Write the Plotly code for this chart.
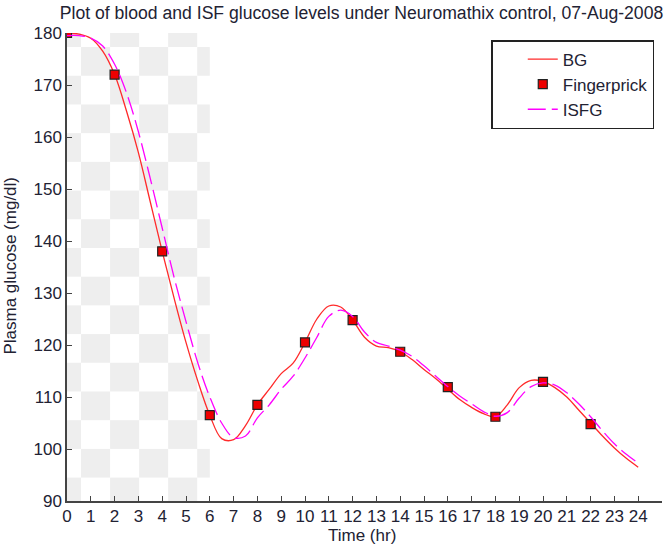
import plotly.graph_objects as go

# time grid (hr) for the model curves
t = [0, 0.5, 1, 1.5, 2, 2.5, 3, 3.5, 4, 4.5, 5, 5.5, 6, 6.5, 7, 7.5, 8, 8.5, 9, 9.5,
     10, 10.5, 11, 11.5, 12, 12.5, 13, 13.5, 14, 14.5, 15, 15.5, 16, 16.5, 17, 17.5,
     18, 18.5, 19, 19.5, 20, 20.5, 21, 21.5, 22, 22.5, 23, 23.5, 24]

# blood glucose (mg/dl)
bg = [180, 179.8, 179, 176.5, 172, 165, 157, 147.5, 138, 129, 120.5, 113, 106.5, 102, 101.8,
      104.5, 108.5, 111.5, 114.5, 116.5, 120.5, 125, 127.5, 127.3, 124.8, 121.5, 119.8, 119.5,
      118.7, 117.2, 115.3, 113.5, 111.5, 109.5, 108, 106.8, 106.2, 108.5, 111.8, 113.2, 113,
      111.8, 110, 107.5, 105, 102.5, 100.2, 98.2, 96.5]

# interstitial fluid glucose (mg/dl)
isfg = [179.5, 179.5, 179, 177.5, 174, 168.5, 161, 152, 142.5, 133, 124.5, 116.5, 110, 105,
        102.2, 102.5, 106, 108.5, 111.5, 114, 117.5, 121.5, 125.5, 126.7, 125.5, 122.5, 120.5,
        119.8, 119, 117.8, 116, 114, 112, 110.2, 108.7, 107.2, 106.3, 107, 109.8, 112, 112.7,
        112.3, 110.8, 108.7, 106.2, 103.5, 101, 99, 97.3]

# fingerprick measurements
fp_t = [0, 2, 4, 6, 8, 10, 12, 14, 16, 18, 20, 22]
fp_val = [180, 172, 138, 106.5, 108.5, 120.5, 124.8, 118.7, 111.9, 106.2, 112.9, 104.8]

fig = go.Figure()

fig.add_trace(go.Scatter(x=t, y=bg, mode='lines', name='BG',
                         line=dict(color='#ff2a2a', width=1.3, shape='spline')))
fig.add_trace(go.Scatter(x=fp_t, y=fp_val, mode='markers', name='Fingerprick',
                         marker=dict(symbol='square', size=9, color='#ee0000',
                                     line=dict(color='#222222', width=1.2))))
fig.add_trace(go.Scatter(x=t, y=isfg, mode='lines', name='ISFG',
                         line=dict(color='#ff00ff', width=1.3, shape='spline', dash='18px,6px')))

# checkered patch behind the first 6 hours
shapes = []
cols = [0, 0.59]
while cols[-1] + 1.22 < 6:
    cols.append(round(cols[-1] + 1.22, 3))
cols.append(6)
rows = [180, 177.3]
while rows[-1] - 5.52 > 90:
    rows.append(round(rows[-1] - 5.52, 3))
rows.append(90)
for c in range(len(cols) - 1):
    for r in range(len(rows) - 1):
        if (c + r) % 2 == 0:
            shapes.append(dict(type='rect', xref='x', yref='y', layer='below',
                               x0=cols[c], x1=cols[c + 1], y0=rows[r + 1], y1=rows[r],
                               fillcolor='#eeeeee', line=dict(width=0)))

fig.update_layout(
    width=669, height=554,
    margin=dict(l=67, r=7, t=33, b=53),
    paper_bgcolor='white', plot_bgcolor='white',
    font=dict(family='Liberation Sans, Arial, sans-serif', size=17, color='#222233'),
    title=dict(text='Plot of blood and ISF glucose levels under Neuromathix control, 07-Aug-2008',
               x=0.495, xref='paper', xanchor='center', y=0.977, yref='container',
               yanchor='middle', font=dict(size=17.6, color='#222233')),
    shapes=shapes,
    showlegend=True,
    legend=dict(x=0.987, y=0.985, xanchor='right', yanchor='top', indentation=30,
                bgcolor='white', bordercolor='#222222', borderwidth=1.5,
                font=dict(size=17), tracegroupgap=0),
    annotations=[
        dict(text='Time (hr)', xref='paper', yref='paper', x=0.495, y=-0.0735,
             xanchor='center', yanchor='middle', showarrow=False, font=dict(size=17)),
        dict(text='Plasma glucose (mg/dl)', xref='paper', yref='paper', x=-0.095, y=0.504,
             xanchor='center', yanchor='middle', textangle=-90, showarrow=False,
             font=dict(size=17)),
    ],
)

fig.update_xaxes(range=[0, 25], tickmode='array', tickvals=list(range(25)),
                 showgrid=False, zeroline=False, showline=True, linecolor='#444444',
                 linewidth=1.5, ticks='inside', ticklen=5, tickcolor='#444444',
                 automargin=False, tickfont=dict(size=17), ticklabelstandoff=-1)
fig.update_yaxes(range=[90, 180], tickmode='array', tickvals=list(range(90, 181, 10)),
                 showgrid=False, zeroline=False, showline=True, linecolor='#444444',
                 linewidth=1.5, ticks='inside', ticklen=5, tickcolor='#444444',
                 automargin=False, tickfont=dict(size=17))

# drop the page's default body margin so the figure sits at the window's corner
fig.write_html("out.html", config={'displayModeBar': False},
               post_script="document.body.style.margin='0';")
